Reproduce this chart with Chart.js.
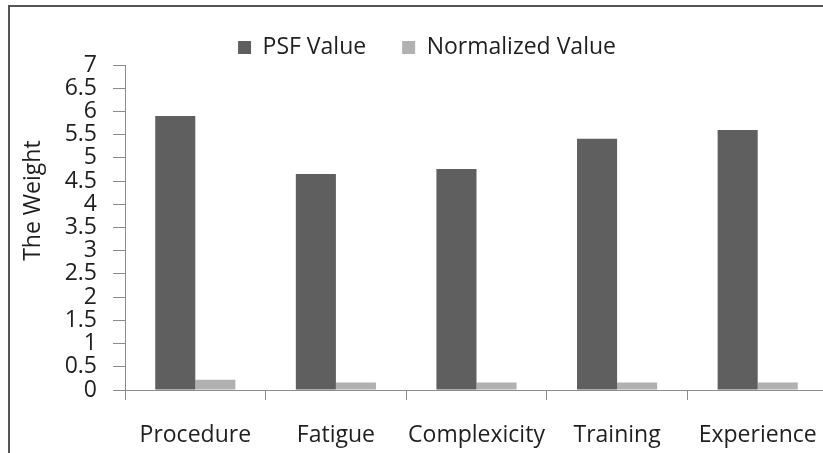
<!DOCTYPE html>
<html>
<head>
<meta charset="utf-8">
<script src="https://cdn.jsdelivr.net/npm/chart.js@4.4.0/dist/chart.umd.min.js"></script>
<style>
  html, body { margin: 0; padding: 0; background: #fff; overflow: hidden; width: 823px; height: 453px; }
  #frame { position: absolute; left: 8px; top: 5px; width: 900px; height: 600px; border: 2px solid #555; }
  #myChart { position: absolute; left: 0; top: 0; }
</style>
</head>
<body>
<div id="frame"></div>
<canvas id="myChart" width="854" height="453"></canvas>
<script>
// data
const categories = ['Procedure', 'Fatigue', 'Complexicity', 'Training', 'Experience'];
const psfValues = [5.9, 4.65, 4.76, 5.41, 5.6];
const normalizedValues = [0.22, 0.16, 0.16, 0.16, 0.16];
const yTickLabels = ['0', '0.5', '1', '1.5', '2', '2.5', '3', '3.5', '4', '4.5', '5', '5.5', '6', '6.5', '7'];

const font = "'Open Sans', sans-serif";
const textColor = '#1f1f1f';
const axisColor = '#8c8c8c';

// legend height is fixed so the plot top lands where the reference has it
const legendFix = {
    id: 'legendFix',
    afterInit(chart) {
        const lg = chart.legend;
        const orig = lg.fit.bind(lg);
        lg.fit = function () {
            orig();
            this.height = 65;
        };
    }
};

let chart = new Chart(document.querySelector('#myChart').getContext('2d'), {
    type: 'bar',
    data: {
        labels: categories,
        datasets: [{
            label: 'PSF Value',
            data: psfValues,
            backgroundColor: '#5f5f5f',
            borderWidth: 0
        }, {
            label: 'Normalized Value',
            data: normalizedValues,
            backgroundColor: '#b1b1b1',
            borderWidth: 0
        }]
    },
    options: {
        responsive: false,
        animation: false,
        categoryPercentage: 0.57,
        barPercentage: 1.0,
        layout: { padding: 0 },
        plugins: {
            tooltip: { enabled: false },
            legend: {
                position: 'top',
                labels: {
                    boxWidth: 13,
                    boxHeight: 13,
                    padding: 36,
                    color: textColor,
                    font: { family: font, size: 23 }
                }
            }
        },
        scales: {
            x: {
                grid: {
                    offset: true,
                    drawOnChartArea: false,
                    tickLength: 10,
                    color: axisColor
                },
                border: { color: axisColor },
                ticks: {
                    padding: 22,
                    color: textColor,
                    font: { family: font, size: 23 },
                    maxRotation: 0
                },
                afterFit: (s) => { s.height = 63; s.paddingLeft = 0; s.paddingRight = 0; }
            },
            y: {
                min: 0,
                max: 7,
                grid: {
                    drawOnChartArea: false,
                    tickLength: 12,
                    color: axisColor
                },
                border: { color: axisColor },
                ticks: {
                    stepSize: 0.5,
                    autoSkip: false,
                    padding: 16,
                    color: textColor,
                    font: { family: font, size: 23 },
                    callback: (v, i) => yTickLabels[i]
                },
                title: {
                    display: true,
                    text: '\u00A0\u00A0\u00A0\u00A0\u00A0\u00A0\u00A0\u00A0\u00A0The Weight',
                    color: textColor,
                    font: { family: font, size: 23 },
                    padding: { top: 20, bottom: 0 }
                },
                afterFit: (s) => { s.width = 125; s.paddingTop = 0; s.paddingBottom = 0; }
            },
            // empty right-hand box, keeps the plot's right edge where the picture crops it
            pad: {
                type: 'linear',
                position: 'right',
                display: true,
                grid: { display: false },
                border: { display: false },
                ticks: { display: false },
                afterFit: (s) => { s.width = 26; s.paddingTop = 0; s.paddingBottom = 0; }
            }
        }
    },
    plugins: [legendFix]
});
</script>
</body>
</html>
